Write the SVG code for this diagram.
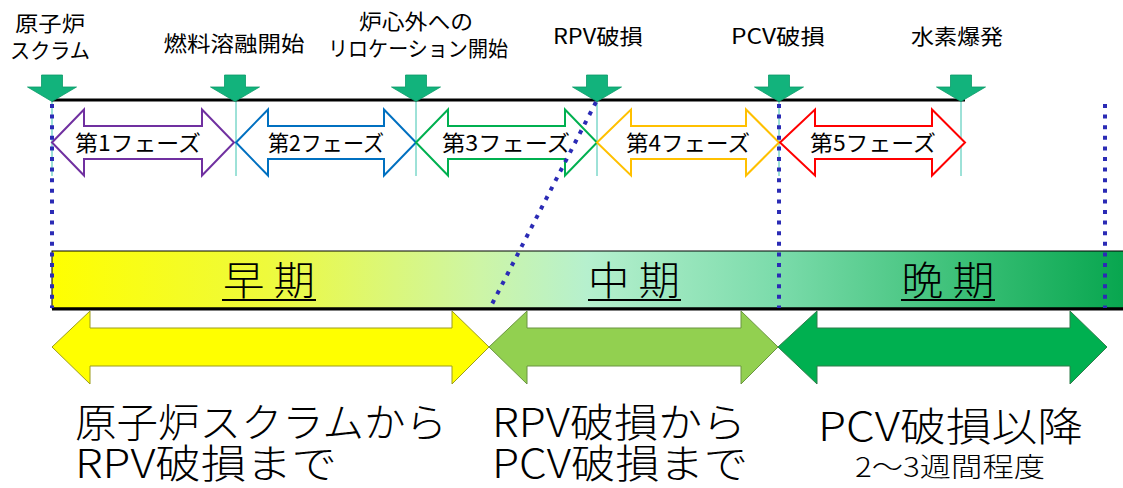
<svg xmlns="http://www.w3.org/2000/svg" xmlns:xlink="http://www.w3.org/1999/xlink" width="1123" height="488" viewBox="0 0 1123 488">
<defs>
<linearGradient id="band" x1="52" y1="0" x2="1123" y2="0" gradientUnits="userSpaceOnUse">
<stop offset="0" stop-color="#FFFF00"/>
<stop offset="0.2" stop-color="#EEFA3C"/>
<stop offset="0.4" stop-color="#CDF5A6"/>
<stop offset="0.5" stop-color="#B6F0CE"/>
<stop offset="0.68" stop-color="#7ADBAA"/>
<stop offset="0.85" stop-color="#3BC077"/>
<stop offset="1" stop-color="#08A64F"/>
</linearGradient>
<polygon id="mk" points="-10.5,-26 10.5,-26 10.5,-14 24.5,-14 0,0.5 -24.5,-14 -10.5,-14"/>
</defs>
<style>
text{font-family:"Noto Sans CJK JP","Noto Sans",sans-serif;fill:#000}
.top{font-size:21px;text-anchor:middle}
.ph{font-size:22px;text-anchor:middle}
.bl{font-size:40px;text-anchor:middle;font-weight:300}
.big{font-size:40px;font-weight:300}
.sub{font-size:27px;text-anchor:middle;font-weight:300}
.mk{fill:#12B37C;stroke:#0A9A68;stroke-width:0.8}
.tk{stroke:#3CC4B0;stroke-width:1;fill:none}
.dot{stroke:#2B2BB5;stroke-width:4;stroke-dasharray:4 6.6;fill:none}
.pa{fill:#fff;stroke-width:2;stroke-linejoin:miter}
.ul{stroke:#000;stroke-width:2}
</style>
<rect width="1123" height="488" fill="#fff"/>

<g id="band-periods">
<rect x="52" y="251" width="1073" height="57" fill="url(#band)" stroke="#000" stroke-width="1"/>
<line x1="52" y1="309" x2="1123" y2="309" stroke="#000" stroke-width="3"/>
</g>

<g id="ticks">
<line class="tk" x1="52" y1="100" x2="52" y2="176"/>
<line class="tk" x1="236" y1="100" x2="236" y2="176"/>
<line class="tk" x1="416" y1="100" x2="416" y2="176"/>
<line class="tk" x1="597" y1="100" x2="597" y2="176"/>
<line class="tk" x1="779" y1="100" x2="779" y2="176"/>
<line class="tk" x1="961" y1="100" x2="961" y2="176"/>
</g>

<g id="phase1"><polygon class="pa" stroke="#7030A0" points="52,142.5 84,109.5 84,126 202,126 202,109.5 234,142.5 202,175.5 202,159 84,159 84,175.5"/><text class="ph" x="138" y="151" textLength="126" lengthAdjust="spacingAndGlyphs">第1フェーズ</text></g>
<g id="phase2"><polygon class="pa" stroke="#0070C0" points="236,142.5 268,109.5 268,126 384,126 384,109.5 416,142.5 384,175.5 384,159 268,159 268,175.5"/><text class="ph" x="326" y="151" textLength="116" lengthAdjust="spacingAndGlyphs">第2フェーズ</text></g>
<g id="phase3"><polygon class="pa" stroke="#00B050" points="416,142.5 448,109.5 448,126 565,126 565,109.5 597,142.5 565,175.5 565,159 448,159 448,175.5"/><text class="ph" x="506" y="151" textLength="128" lengthAdjust="spacingAndGlyphs">第3フェーズ</text></g>
<g id="phase4"><polygon class="pa" stroke="#FFC000" points="597,142.5 631,109.5 631,126 746,126 746,109.5 779,142.5 746,175.5 746,159 631,159 631,175.5"/><text class="ph" x="688" y="151" textLength="124" lengthAdjust="spacingAndGlyphs">第4フェーズ</text></g>
<g id="phase5"><polygon class="pa" stroke="#FF0000" points="780,142.5 815,109.5 815,126 932,126 932,109.5 965,142.5 932,175.5 932,159 815,159 815,175.5"/><text class="ph" x="873" y="151" textLength="126" lengthAdjust="spacingAndGlyphs">第5フェーズ</text></g>

<g id="connectors">
<line x1="52" y1="100" x2="965" y2="100" stroke="#000" stroke-width="3"/>
<line class="dot" x1="52" y1="104" x2="52" y2="308"/>
<line class="dot" x1="779" y1="104" x2="779" y2="308"/>
<line class="dot" x1="1105" y1="104" x2="1105" y2="308"/>
<line class="dot" x1="596" y1="102" x2="490" y2="308"/>
</g>

<g id="event-scram"><use href="#mk" class="mk" x="52" y="101"/><text class="top" x="50" y="31" textLength="70" lengthAdjust="spacingAndGlyphs">原子炉</text><text class="top" x="50" y="58" textLength="80" lengthAdjust="spacingAndGlyphs">スクラム</text></g>
<g id="event-melt"><use href="#mk" class="mk" x="235" y="101"/><text class="top" x="234" y="51" textLength="141" lengthAdjust="spacingAndGlyphs">燃料溶融開始</text></g>
<g id="event-relocation"><use href="#mk" class="mk" x="416" y="101"/><text class="top" x="416" y="29" textLength="114" lengthAdjust="spacingAndGlyphs">炉心外への</text><text class="top" x="418" y="56" textLength="180" lengthAdjust="spacingAndGlyphs">リロケーション開始</text></g>
<g id="event-rpv"><use href="#mk" class="mk" x="597" y="101"/><text class="top" x="598" y="44" textLength="90" lengthAdjust="spacingAndGlyphs">RPV破損</text></g>
<g id="event-pcv"><use href="#mk" class="mk" x="779" y="101"/><text class="top" x="778" y="44" textLength="94" lengthAdjust="spacingAndGlyphs">PCV破損</text></g>
<g id="event-h2"><use href="#mk" class="mk" x="961" y="101"/><text class="top" x="957" y="44" textLength="92" lengthAdjust="spacingAndGlyphs">水素爆発</text></g>

<g id="label-early"><text class="bl" x="269" y="295" textLength="92" lengthAdjust="spacingAndGlyphs">早 期</text><line class="ul" x1="222" y1="300" x2="316" y2="300"/></g>
<g id="label-mid"><text class="bl" x="634" y="295" textLength="92" lengthAdjust="spacingAndGlyphs">中 期</text><line class="ul" x1="588" y1="300" x2="681" y2="300"/></g>
<g id="label-late"><text class="bl" x="948" y="295" textLength="93" lengthAdjust="spacingAndGlyphs">晩 期</text><line class="ul" x1="901" y1="300" x2="995" y2="300"/></g>

<g id="arrow-early"><polygon fill="#FFFF00" stroke="#9C9C1E" stroke-width="1" points="52,347 90,311 90,328 452,328 452,311 489,347 452,384 452,366 90,366 90,384"/>
<text class="big" x="75" y="437" textLength="372" lengthAdjust="spacingAndGlyphs">原子炉スクラムから</text>
<text class="big" x="75" y="478" textLength="262" lengthAdjust="spacingAndGlyphs">RPV破損まで</text></g>
<g id="arrow-mid"><polygon fill="#92D050" stroke="#6A9440" stroke-width="1" points="489,347 527,311 527,328 741,328 741,311 778,347 741,384 741,366 527,366 527,384"/>
<text class="big" x="492" y="437" textLength="254" lengthAdjust="spacingAndGlyphs">RPV破損から</text>
<text class="big" x="492" y="478" textLength="256" lengthAdjust="spacingAndGlyphs">PCV破損まで</text></g>
<g id="arrow-late"><polygon fill="#00B050" stroke="#2E7D4A" stroke-width="1" points="778,347 817,311 817,328 1070,328 1070,311 1107,347 1070,384 1070,366 817,366 817,384"/>
<text class="big" x="818" y="441" textLength="265" lengthAdjust="spacingAndGlyphs">PCV破損以降</text>
<text class="sub" x="950" y="477" textLength="190" lengthAdjust="spacingAndGlyphs">2〜3週間程度</text></g>
</svg>
